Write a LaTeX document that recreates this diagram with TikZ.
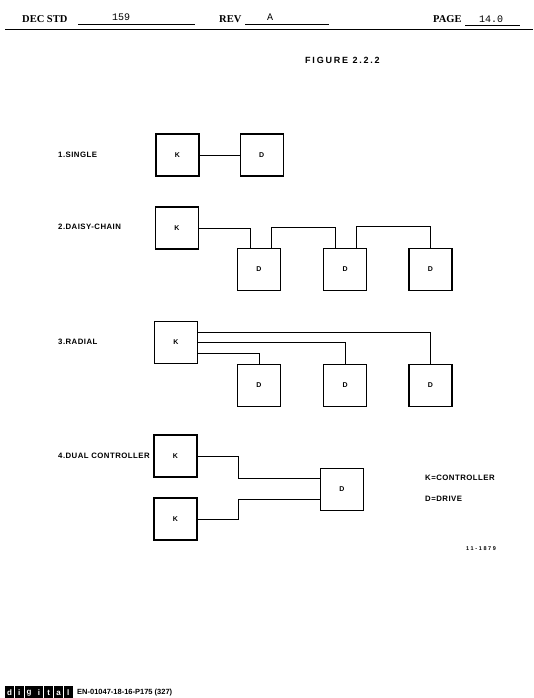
\documentclass[tikz,border=0pt]{standalone}
\usepackage{fontspec}
\setmainfont{Liberation Serif}
\setsansfont{Liberation Sans}
\setmonofont{Liberation Mono}
\newfontfamily\lettering[LetterSpace=6]{Liberation Sans}
\newfontfamily\wideletter[LetterSpace=20]{Liberation Sans}
\newfontfamily\tinyletter[LetterSpace=30]{Liberation Sans}
\usepackage{tikz}
\usetikzlibrary{positioning}

\begin{document}
\begin{tikzpicture}[x=1pt, y=-1pt, node distance=40pt and 41pt,
  box/.style={rectangle, draw, line width=1.2pt, minimum width=43pt, minimum height=42pt,
              inner sep=0pt, font=\sffamily\bfseries\fontsize{7}{8}\selectfont},
  lbl/.style={anchor=west, inner sep=0pt, font=\lettering\bfseries\fontsize{7.8}{9}\selectfont},
  hdr/.style={anchor=base west, inner sep=0pt, font=\rmfamily\bfseries\fontsize{10.5}{12}\selectfont},
  val/.style={anchor=base, inner sep=0pt, font=\ttfamily\fontsize{10}{12}\selectfont},
  wire/.style={line width=0.9pt},
  logo/.style={rectangle, fill=black, text=white, minimum width=9pt, minimum height=14pt,
               inner sep=0pt, font=\sffamily\bfseries\fontsize{8}{9}\selectfont}]

  \useasboundingbox[fill=white] (0,0) rectangle (533,698);

  % page header
  \node[hdr] (decstd) at (22,23) {DEC STD};
  \node[val] (stdno) at (121,21) {159};
  \node[hdr] (rev) at (219,23) {REV};
  \node[val] (revno) at (270,21) {A};
  \node[hdr] (page) at (433,23) {PAGE};
  \node[val] (pageno) at (491,23) {14.0};
  \draw[line width=0.7pt] (78,24.5) -- (195,24.5) (245,24.5) -- (329,24.5) (465,25) -- (520,25);
  \draw[line width=1.6pt] (5,29.5) -- (533,29.5);

  \node[anchor=west, inner sep=0pt, font=\wideletter\bfseries\fontsize{9}{10}\selectfont] (fig) at (305,60) {FIGURE 2.2.2};

  % 1. single
  \node[lbl] (single) at (58,155) {1.SINGLE};
  \node[box] (sk) at (177.5,155) {K};
  \node[box, right=40pt of sk] (sd) {D};
  \draw[wire] (sk) -- (sd);

  % 2. daisy-chain
  \node[lbl] (daisy) at (58,227) {2.DAISY-CHAIN};
  \node[box] (dk) at (177,228) {K};
  \node[box] (dd1) at (259,269.5) {D};
  \node[box, right=42pt of dd1] (dd2) {D};
  \node[box, right=41pt of dd2] (dd3) {D};
  \draw[wire] (dk.east) -| ([xshift=-9pt]dd1.north);
  \draw[wire] ([xshift=12pt]dd1.north) -- ++(0,-20) -| ([xshift=-10pt]dd2.north);
  \draw[wire] ([xshift=11pt]dd2.north) -- ++(0,-21) -| (dd3.north);

  % 3. radial
  \node[lbl] (radial) at (58,342) {3.RADIAL};
  \node[box] (rk) at (176,342.5) {K};
  \node[box] (rd1) at (259,385.5) {D};
  \node[box, right=42pt of rd1] (rd2) {D};
  \node[box, right=41pt of rd2] (rd3) {D};
  \draw[wire] ([yshift=10.5pt]rk.east) -| (rd3.north);
  \draw[wire] (rk.east) -| (rd2.north);
  \draw[wire] ([yshift=-10.5pt]rk.east) -| (rd1.north);

  % 4. dual controller
  \node[lbl] (dual) at (58,456) {4.DUAL CONTROLLER};
  \node[box] (ck1) at (175.5,456) {K};
  \node[box] (ck2) at (175.5,519) {K};
  \node[box] (cd) at (342,489.5) {D};
  \draw[wire] (ck1.east) -- ++(41,0) |- ([yshift=11.5pt]cd.west);
  \draw[wire] (ck2.east) -- ++(41,0) |- ([yshift=-9.5pt]cd.west);

  \node[lbl] (keyk) at (425,478) {K=CONTROLLER};
  \node[lbl] (keyd) at (425,499) {D=DRIVE};
  \node[lbl, font=\tinyletter\bfseries\fontsize{5.5}{6}\selectfont] (figno) at (466,549) {11-1879};

  % footer
  \foreach \c [count=\i from 0] in {d,i,g,i,t,a,l}
    \node[logo] (logo\i) at (9.5+9.8*\i,693) {\c};
  \node[anchor=west, inner sep=0pt, font=\sffamily\bfseries\fontsize{7.5}{8}\selectfont] (formno) at (77,693) {EN-01047-18-16-P175 (327)};

\end{tikzpicture}
\end{document}
